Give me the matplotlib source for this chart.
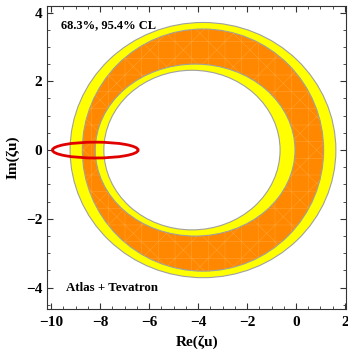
import numpy as np
import matplotlib
matplotlib.use("Agg")
import matplotlib.pyplot as plt
from matplotlib.patches import Ellipse
from matplotlib.ticker import MultipleLocator

# Ellipse boundaries of the confidence bands: (center_x, center_y, semi_a, semi_b)
outer95 = (-3.8, 0.0, 5.43, 3.71)
outer68 = (-3.8, 0.0, 4.93, 3.52)
inner68 = (-4.12, 0.0, 4.08, 2.50)
inner95 = (-4.25, 0.0, 3.60, 2.32)
red_ellipse = (-8.2, 0.0, 1.75, 0.23)

xticks = [-10, -8, -6, -4, -2, 0, 2]
yticks = [-4, -2, 0, 2, 4]
xlim = (-10.16, 2.04)
ylim = (-4.62, 4.19)

YELLOW = "#FFFF00"
ORANGE = "#FF8800"
MESH = "#FFA030"
EDGE = "#a0a0a0"

plt.rcParams['font.family'] = ['Liberation Serif', 'DejaVu Serif']
plt.rcParams['font.weight'] = 'bold'
plt.rcParams['hatch.linewidth'] = 0.4

fig = plt.figure(figsize=(3.48, 3.51), dpi=100)
ax = fig.add_axes([0.136, 0.1197, 0.858, 0.8633])

def add_ell(p, fc, z, **kw):
    cx, cy, a, b = p
    ax.add_patch(Ellipse((cx, cy), 2 * a, 2 * b, facecolor=fc, zorder=z, **kw))

add_ell(outer95, YELLOW, 1, edgecolor=EDGE, linewidth=0.8)
add_ell(outer68, ORANGE, 2, edgecolor=EDGE, linewidth=0.8)
add_ell(outer68, "none", 2.5, edgecolor=MESH, linewidth=0, hatch='x+')
add_ell(inner68, YELLOW, 3, edgecolor=EDGE, linewidth=0.8)
add_ell(inner95, "white", 4, edgecolor=EDGE, linewidth=0.8)

cx, cy, a, b = red_ellipse
ax.add_patch(Ellipse((cx, cy), 2 * a, 2 * b, facecolor="none", edgecolor="#e00000",
                     linewidth=2.0, zorder=6))

ax.set_xlim(*xlim)
ax.set_ylim(*ylim)
ax.set_xticks(xticks)
ax.set_yticks(yticks)
ax.set_xticklabels([str(t).replace('-', '\u2212') for t in xticks])
ax.set_yticklabels([str(t).replace('-', '\u2212') for t in yticks])
ax.xaxis.set_minor_locator(MultipleLocator(0.5))
ax.yaxis.set_minor_locator(MultipleLocator(0.5))
ax.tick_params(which='both', direction='in', top=True, right=True, labeltop=False,
               labelright=False, labelsize=11, color='#333333')
ax.tick_params(which='major', length=4, width=0.8)
ax.tick_params(which='minor', length=2, width=0.6)
ax.tick_params(axis='x', pad=5)
for sp in ax.spines.values():
    sp.set_color('#333333')
    sp.set_linewidth(0.8)

ax.set_xlabel("Re(\u03b6u)", fontsize=11, fontweight='bold', labelpad=5)
ax.set_ylabel("Im(\u03b6u)", fontsize=11, fontweight='bold', labelpad=5)

ax.text(-9.6, 3.62, "68.3%, 95.4% CL", fontsize=9, fontweight='bold', va='center', ha='left')
ax.text(-9.4, -4.0, "Atlas + Tevatron", fontsize=9.3, fontweight='bold', va='center', ha='left')

fig.savefig("out.png", dpi=100)
